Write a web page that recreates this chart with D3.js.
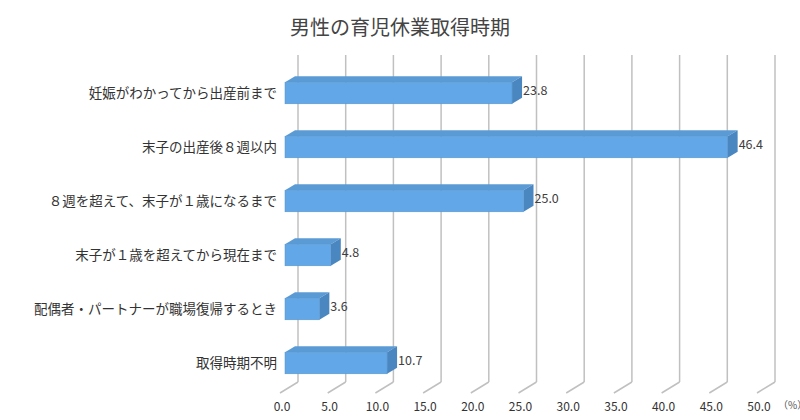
<!DOCTYPE html><html><head><meta charset="utf-8"><script src="https://cdn.jsdelivr.net/npm/d3@7"></script>
<style>body{margin:0;background:#fff}text{font-family:"Noto Sans CJK JP",sans-serif}</style></head><body><svg id="c" width="800" height="420"></svg><script>
const categories=["妊娠がわかってから出産前まで","末子の出産後８週以内","８週を超えて、末子が１歳になるまで","末子が１歳を超えてから現在まで","配偶者・パートナーが職場復帰するとき","取得時期不明"];
const values=[23.8,46.4,25.0,4.8,3.6,10.7];
const ticks=[0,5,10,15,20,25,30,35,40,45,50];
const svg=d3.select("#c");
const x=d3.scaleLinear().domain([0,50]).range([285,762]);
const y=d3.scaleBand().domain(categories).range([66,390]).paddingInner(0.6).paddingOuter(0.3);
const DX=15,DY=-11;
svg.append("text").attr("x",400).attr("y",35).attr("text-anchor","middle").attr("font-size",20).attr("fill","#444").text("男性の育児休業取得時期");
const g=svg.append("g");
ticks.forEach(t=>{
 g.append("line").attr("x1",x(t)-5).attr("y1",393).attr("x2",x(t)+DX-2).attr("y2",393+DY).attr("stroke","#c0c0c0").attr("stroke-width",1.5);
 g.append("line").attr("x1",x(t)+DX-2).attr("y1",393+DY).attr("x2",x(t)+DX-2).attr("y2",55).attr("stroke","#c0c0c0").attr("stroke-width",1.5);
 g.append("text").attr("x",x(t)-3).attr("y",411).attr("text-anchor","middle").attr("font-size",12).attr("fill","#333").text(t.toFixed(1));
});
svg.append("text").attr("x",778).attr("y",409).attr("font-size",10).attr("fill","#555").text("（%）");
const bd=10,bdy=-6;
categories.forEach((c,i)=>{
 const x0=x(0),x1=x(values[i]),y0=y(c),h=y.bandwidth();
 g.append("path").attr("d",`M${x0},${y0}L${x0+bd},${y0+bdy}L${x1+bd},${y0+bdy}L${x1},${y0}Z`).attr("fill","#5b9bd5");
 g.append("path").attr("d",`M${x1},${y0}L${x1+bd},${y0+bdy}L${x1+bd},${y0+h+bdy}L${x1},${y0+h}Z`).attr("fill","#4a86c0");
 g.append("rect").attr("x",x0).attr("y",y0).attr("width",x1-x0).attr("height",h).attr("fill","#62a8e8").attr("stroke","#5590c8").attr("stroke-width",0.5);
 g.append("text").attr("x",x1+bd+1).attr("y",y0+h/2+2).attr("font-size",12.5).attr("fill","#404040").text(values[i].toFixed(1));
 svg.append("text").attr("x",277).attr("y",y0+h/2+5).attr("text-anchor","end").attr("font-size",13.5).attr("fill","#333").text(c);
});
</script></body></html>
